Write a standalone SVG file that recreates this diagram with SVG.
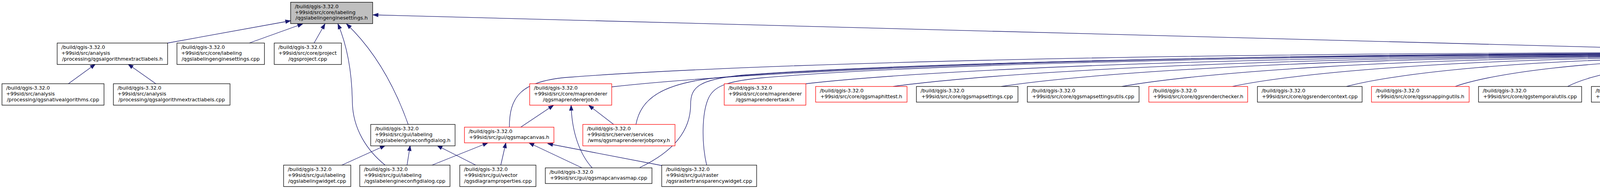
<svg xmlns="http://www.w3.org/2000/svg" width="7994" height="483" viewBox="0 0 7994 483">
<style>
.n rect{fill:#fff;stroke:#000;stroke-width:1.3}
.m rect{fill:#bfbfbf}
.r rect{stroke:#f00}
text{font-family:"DejaVu Sans","Liberation Sans",sans-serif;font-size:12.8px;fill:#000}
.c{text-anchor:middle}
#edges path{fill:none;stroke:#191970;stroke-width:1.3;marker-end:url(#ah)}
</style>
<defs>
<marker id="ah" markerUnits="userSpaceOnUse" markerWidth="14" markerHeight="10" refX="13" refY="4.7" orient="auto" overflow="visible"><path d="M0,0 L13,4.7 L0,9.4 z" fill="#191970" stroke="#191970" stroke-width="1"/></marker>
</defs>
<rect width="7994" height="483" fill="#fff"/>
<g id="edges">
<path d="M429,110 L744,53"/>
<path d="M638,110 L775,61"/>
<path d="M804,110 L832,61"/>
<path d="M986,422 C940,385 903,330 902,260 C901,190 890,120 865,61"/>
<path d="M1045,318 C1010,220 960,130 887,61"/>
<path d="M175,214 L244,164"/>
<path d="M399,214 L328,164"/>
<path d="M875,422 L986,372"/>
<path d="M1042,422 L1050,372"/>
<path d="M1218,422 L1119,372"/>
<path d="M1106,422 L1249,365"/>
<path d="M1282,422 L1295,365"/>
<path d="M1490,429 L1354,365"/>
<path d="M1694,423 L1402,367"/>
<path d="M1333,325 L1417,269"/>
<path d="M1516,429 C1485,395 1464,340 1462,269"/>
<path d="M1571,318 L1507,269"/>
<path d="M5136,318 L5106,269"/>
<path d="M7034,318 L7005,269"/>
<path d="M4525,132 L955,38"/>
<path d="M1304,325 C1304,250 1330,205 1463,197 C1769,173 2688,134 4525,134"/>
<path d="M1566,222 C1862,188.6 2750,135.5 4525,135.5"/>
<path d="M1628,318 C1640,255 1690,210 1855,197 C2122,174.2 2923,137 4525,137"/>
<path d="M1638,428 C1740,380 1768,320 1768,267 C1768,222 1790,203 1900,192 C2162,171.6 2950,138 4525,138"/>
<path d="M1809,422 C1795,360 1798,290 1812,255 C1825,222 1855,208 1950,199 C2207,176.2 2980,139 4525,139"/>
<path d="M2063,214 C2309,185.6 3048,140 4525,140"/>
<path d="M2286,221 C2510,190.2 3182,141 4525,141"/>
<path d="M2563,221 C2759,190.6 3348,142 4525,142"/>
<path d="M2872,221 C3037,191 3533,143 4525,143"/>
<path d="M3155,221 C3292,191.4 3703,144.5 4525,144.5"/>
<path d="M3447,221 C3555,192 3878,146 4525,146"/>
<path d="M3725,221 C3805,192.6 4045,148.5 4525,148.5"/>
<path d="M4013,221 C4064,193.8 4218,152 4525,152"/>
<path d="M4278,221 L4554,157"/>
<path d="M4513,221 L4608,157"/>
<path d="M4782,221 L4685,157"/>
<path d="M5000,216 L4745,157"/>
<path d="M5172,318 C5210,265 5190,195 5106,175 C5000,157 4850,153 4768,153"/>
<path d="M5254,216 C5205,190.2 5060,152 4768,152"/>
<path d="M5569,221 C5489,192.6 5249,142.5 4768,142.5"/>
<path d="M5774,214 C5673,188 5372,142 4768,142"/>
<path d="M6042,214 C5915,187.6 5532,141.5 4768,141.5"/>
<path d="M6275,214 C6124,187.2 5672,141 4768,141"/>
<path d="M6447,214 C6279,186.8 5775,140.5 4768,140.5"/>
<path d="M6696,214 C6503,186.4 5925,140 4768,140"/>
<path d="M6898,214 C6685,186 6046,139.5 4768,139.5"/>
<path d="M7071,318 C7115,275 7105,215 7012,202 C6788,178.4 6114,139 4768,139"/>
<path d="M7152,214 C6914,185.2 6198,138.5 4768,138.5"/>
<path d="M7355,214 C7096,184.8 6320,138 4768,138"/>
<path d="M7597,214 C7314,184.4 6465,137.5 4768,137.5"/>
<path d="M7798,214 C7495,184 6586,137 4768,137"/>
</g>
<g id="N0" class="n m"><rect x="744" y="5.7" width="210" height="54.7"/><text x="754.7" y="21">/build/qgis-3.32.0</text><text x="754.7" y="35.7">+99sid/src/core/labeling</text><text class="c" x="849" y="50.4">/qgslabelingenginesettings.h</text></g>
<g id="A" class="n"><rect x="146.4" y="110" width="282.7" height="54.7"/><text x="157.1" y="125.3">/build/qgis-3.32.0</text><text x="157.1" y="140">+99sid/src/analysis</text><text class="c" x="287.75" y="154.7">/processing/qgsalgorithmextractlabels.h</text></g>
<g id="B" class="n"><rect x="5.1" y="214" width="261.2" height="54.7"/><text x="15.8" y="229.3">/build/qgis-3.32.0</text><text x="15.8" y="244">+99sid/src/analysis</text><text class="c" x="135.7" y="258.7">/processing/qgsnativealgorithms.cpp</text></g>
<g id="C" class="n"><rect x="290.3" y="214" width="298.5" height="54.7"/><text x="301" y="229.3">/build/qgis-3.32.0</text><text x="301" y="244">+99sid/src/analysis</text><text class="c" x="439.55" y="258.7">/processing/qgsalgorithmextractlabels.cpp</text></g>
<g id="D" class="n"><rect x="453" y="110" width="224" height="54.7"/><text x="463.7" y="125.3">/build/qgis-3.32.0</text><text x="463.7" y="140">+99sid/src/core/labeling</text><text class="c" x="565" y="154.7">/qgslabelingenginesettings.cpp</text></g>
<g id="E" class="n"><rect x="702" y="110" width="172" height="54.7"/><text x="712.7" y="125.3">/build/qgis-3.32.0</text><text x="712.7" y="140">+99sid/src/core/project</text><text class="c" x="788" y="154.7">/qgsproject.cpp</text></g>
<g id="F" class="n"><rect x="726" y="422" width="172" height="54.7"/><text x="736.7" y="437.3">/build/qgis-3.32.0</text><text x="736.7" y="452">+99sid/src/gui/labeling</text><text class="c" x="812" y="466.7">/qgslabelingwidget.cpp</text></g>
<g id="G" class="n"><rect x="949" y="318" width="216" height="54.7"/><text x="959.7" y="333.3">/build/qgis-3.32.0</text><text x="959.7" y="348">+99sid/src/gui/labeling</text><text class="c" x="1057" y="362.7">/qgslabelengineconfigdialog.h</text></g>
<g id="H" class="n r"><rect x="1189" y="325" width="229" height="40"/><text x="1199.7" y="340.3">/build/qgis-3.32.0</text><text class="c" x="1303.5" y="355">+99sid/src/gui/qgsmapcanvas.h</text></g>
<g id="I" class="n r"><rect x="1356" y="214" width="210" height="54.7"/><text x="1366.7" y="229.3">/build/qgis-3.32.0</text><text x="1366.7" y="244">+99sid/src/core/maprenderer</text><text class="c" x="1461" y="258.7">/qgsmaprendererjob.h</text></g>
<g id="J" class="n r"><rect x="1492" y="318" width="236" height="54.7"/><text x="1502.7" y="333.3">/build/qgis-3.32.0</text><text x="1502.7" y="348">+99sid/src/server/services</text><text class="c" x="1610" y="362.7">/wms/qgsmaprendererjobproxy.h</text></g>
<g id="K" class="n"><rect x="921" y="422" width="231" height="54.7"/><text x="931.7" y="437.3">/build/qgis-3.32.0</text><text x="931.7" y="452">+99sid/src/gui/labeling</text><text class="c" x="1036.5" y="466.7">/qgslabelengineconfigdialog.cpp</text></g>
<g id="L" class="n"><rect x="1177" y="422" width="195" height="54.7"/><text x="1187.7" y="437.3">/build/qgis-3.32.0</text><text x="1187.7" y="452">+99sid/src/gui/vector</text><text class="c" x="1274.5" y="466.7">/qgsdiagramproperties.cpp</text></g>
<g id="M" class="n"><rect x="1396" y="429" width="273" height="40"/><text x="1406.7" y="444.3">/build/qgis-3.32.0</text><text class="c" x="1532.5" y="459">+99sid/src/gui/qgsmapcanvasmap.cpp</text></g>
<g id="N" class="n"><rect x="1694" y="422" width="243" height="54.7"/><text x="1704.7" y="437.3">/build/qgis-3.32.0</text><text x="1704.7" y="452">+99sid/src/gui/raster</text><text class="c" x="1815.5" y="466.7">/qgsrastertransparencywidget.cpp</text></g>
<g id="O" class="n r"><rect x="1854" y="214" width="209" height="54.7"/><text x="1864.7" y="229.3">/build/qgis-3.32.0</text><text x="1864.7" y="244">+99sid/src/core/maprenderer</text><text class="c" x="1958.5" y="258.7">/qgsmaprenderertask.h</text></g>
<g id="P" class="n r"><rect x="2088" y="221" width="234" height="40"/><text x="2098.7" y="236.3">/build/qgis-3.32.0</text><text class="c" x="2205" y="251">+99sid/src/core/qgsmaphittest.h</text></g>
<g id="Q" class="n"><rect x="2346" y="221" width="260" height="40"/><text x="2356.7" y="236.3">/build/qgis-3.32.0</text><text class="c" x="2476" y="251">+99sid/src/core/qgsmapsettings.cpp</text></g>
<g id="R" class="n"><rect x="2630" y="221" width="286" height="40"/><text x="2640.7" y="236.3">/build/qgis-3.32.0</text><text class="c" x="2773" y="251">+99sid/src/core/qgsmapsettingsutils.cpp</text></g>
<g id="S" class="n r"><rect x="2941" y="221" width="253" height="40"/><text x="2951.7" y="236.3">/build/qgis-3.32.0</text><text class="c" x="3067.5" y="251">+99sid/src/core/qgsrenderchecker.h</text></g>
<g id="T" class="n"><rect x="3219" y="221" width="268" height="40"/><text x="3229.7" y="236.3">/build/qgis-3.32.0</text><text class="c" x="3353" y="251">+99sid/src/core/qgsrendercontext.cpp</text></g>
<g id="U" class="n r"><rect x="3511" y="221" width="250" height="40"/><text x="3521.7" y="236.3">/build/qgis-3.32.0</text><text class="c" x="3636" y="251">+99sid/src/core/qgssnappingutils.h</text></g>
<g id="V" class="n"><rect x="3785" y="221" width="264" height="40"/><text x="3795.7" y="236.3">/build/qgis-3.32.0</text><text class="c" x="3917" y="251">+99sid/src/core/qgstemporalutils.cpp</text></g>
<g id="W" class="n"><rect x="4074" y="221" width="238" height="40"/><text x="4084.7" y="236.3">/build/qgis-3.32.0</text><text class="c" x="4193" y="251">+99sid/src/core/qgstolerance.cpp</text></g>
<g id="X" class="n r"><rect x="4337" y="221" width="289" height="40"/><text x="4347.7" y="236.3">/build/qgis-3.32.0</text><text class="c" x="4481.5" y="251">+99sid/src/gui/qgsmapoverviewcanvas.h</text></g>
<g id="Y" class="n"><rect x="4650" y="221" width="327" height="40"/><text x="4660.7" y="236.3">/build/qgis-3.32.0</text><text class="c" x="4813.5" y="251">+99sid/src/gui/qgspropertyassistantwidget.cpp</text></g>
<g id="HUB" class="n"><rect x="4525" y="117" width="243" height="40"/><text x="4535.7" y="132.3">/build/qgis-3.32.0</text><text class="c" x="4646.5" y="147">+99sid/src/core/qgsmapsettings.h</text></g>
<g id="Z1" class="n r"><rect x="5000" y="214" width="178" height="54.7"/><text x="5010.7" y="229.3">/build/qgis-3.32.0</text><text x="5010.7" y="244">+99sid/src/quickgui</text><text class="c" x="5089" y="258.7">/qgsquickmapsettings.h</text></g>
<g id="Z2" class="n r"><rect x="5052" y="318" width="200" height="54.7"/><text x="5062.7" y="333.3">/build/qgis-3.32.0</text><text x="5062.7" y="348">+99sid/src/quickgui</text><text class="c" x="5152" y="362.7">/qgsquickmapcanvasmap.h</text></g>
<g id="Z3" class="n"><rect x="5254" y="214" width="262" height="54.7"/><text x="5264.7" y="229.3">/build/qgis-3.32.0</text><text x="5264.7" y="244">+99sid/src/server/services</text><text class="c" x="5385" y="258.7">/wms/qgswmsgetlegendgraphics.cpp</text></g>
<g id="Z4" class="n"><rect x="5541" y="221" width="208" height="40"/><text x="5551.7" y="236.3">/build/qgis-3.32.0</text><text class="c" x="5645" y="251">+99sid/src/3d/qgs3daxis.cpp</text></g>
<g id="Z5" class="n"><rect x="5774" y="214" width="243" height="54.7"/><text x="5784.7" y="229.3">/build/qgis-3.32.0</text><text x="5784.7" y="244">+99sid/src/3d/terrain</text><text class="c" x="5895.5" y="258.7">/qgsterraintexturegenerator_p.cpp</text></g>
<g id="Z6" class="n"><rect x="6042" y="214" width="208" height="54.7"/><text x="6052.7" y="229.3">/build/qgis-3.32.0</text><text x="6052.7" y="244">+99sid/src/analysis</text><text class="c" x="6146" y="258.7">/mesh/qgsmeshcontours.cpp</text></g>
<g id="Z7" class="n r"><rect x="6275" y="214" width="148" height="54.7"/><text x="6285.7" y="229.3">/build/qgis-3.32.0</text><text x="6285.7" y="244">+99sid/src/core/dxf</text><text class="c" x="6349" y="258.7">/qgsdxfexport.h</text></g>
<g id="Z8" class="n"><rect x="6447" y="214" width="225" height="54.7"/><text x="6457.7" y="229.3">/build/qgis-3.32.0</text><text x="6457.7" y="244">+99sid/src/core/expression</text><text class="c" x="6559.5" y="258.7">/qgsexpressioncontextutils.cpp</text></g>
<g id="Z9" class="n r"><rect x="6696" y="214" width="178" height="54.7"/><text x="6706.7" y="229.3">/build/qgis-3.32.0</text><text x="6706.7" y="244">+99sid/src/core/labeling</text><text class="c" x="6785" y="258.7">/qgslabelingengine.h</text></g>
<g id="Z10" class="n r"><rect x="6898" y="214" width="179" height="54.7"/><text x="6908.7" y="229.3">/build/qgis-3.32.0</text><text x="6908.7" y="244">+99sid/src/core/labeling</text><text class="c" x="6987.5" y="258.7">/qgslabelsearchtree.h</text></g>
<g id="Z11" class="n"><rect x="6961" y="318" width="178" height="54.7"/><text x="6971.7" y="333.3">/build/qgis-3.32.0</text><text x="6971.7" y="348">+99sid/src/core/labeling</text><text class="c" x="7050" y="362.7">/qgslabelingresults.cpp</text></g>
<g id="Z12" class="n"><rect x="7152" y="214" width="179" height="54.7"/><text x="7162.7" y="229.3">/build/qgis-3.32.0</text><text x="7162.7" y="244">+99sid/src/core/labeling</text><text class="c" x="7241.5" y="258.7">/qgslabelsink.cpp</text></g>
<g id="Z13" class="n"><rect x="7355" y="214" width="218" height="54.7"/><text x="7365.7" y="229.3">/build/qgis-3.32.0</text><text x="7365.7" y="244">+99sid/src/core/layertree</text><text class="c" x="7464" y="258.7">/qgslayertreefiltersettings.cpp</text></g>
<g id="Z14" class="n"><rect x="7597" y="214" width="177" height="54.7"/><text x="7607.7" y="229.3">/build/qgis-3.32.0</text><text x="7607.7" y="244">+99sid/src/core/layout</text><text class="c" x="7685.5" y="258.7">/qgslayoutitemhtml.cpp</text></g>
<g id="Z15" class="n"><rect x="7798" y="214" width="190" height="54.7"/><text x="7808.7" y="229.3">/build/qgis-3.32.0</text><text x="7808.7" y="244">+99sid/src/core/layout</text><text class="c" x="7893" y="258.7">/qgslayoutitemlegend.cpp</text></g>
</svg>
